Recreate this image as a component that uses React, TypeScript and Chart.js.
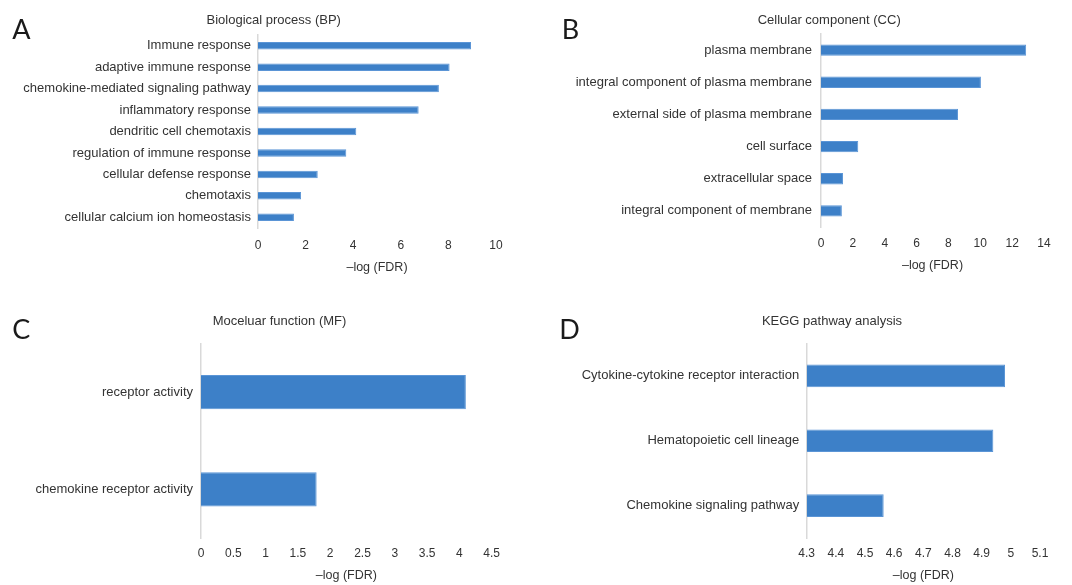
import React, { useEffect, useRef } from "react";
import { Chart, registerables } from "chart.js";

Chart.register(...registerables);

// ---------------- data ----------------
const bpTitle = "Biological process (BP)";
const bpLabels = [
  "Immune response",
  "adaptive immune response",
  "chemokine-mediated signaling pathway",
  "inflammatory response",
  "dendritic cell chemotaxis",
  "regulation of immune response",
  "cellular defense response",
  "chemotaxis",
  "cellular calcium ion homeostasis",
];
const bpValues = [8.95, 8.05, 7.6, 6.75, 4.13, 3.71, 2.51, 1.81, 1.51];
const bpTicks = [0, 2, 4, 6, 8, 10];

const ccTitle = "Cellular component (CC)";
const ccLabels = [
  "plasma membrane",
  "integral component of plasma membrane",
  "external side of plasma membrane",
  "cell surface",
  "extracellular space",
  "integral component of membrane",
];
const ccValues = [12.88, 10.04, 8.6, 2.34, 1.38, 1.31];
const ccTicks = [0, 2, 4, 6, 8, 10, 12, 14];

const mfTitle = "Moceluar function (MF)";
const mfLabels = ["receptor activity", "chemokine receptor activity"];
const mfValues = [4.1, 1.79];
const mfTicks = [0, 0.5, 1, 1.5, 2, 2.5, 3, 3.5, 4, 4.5];

const keggTitle = "KEGG pathway analysis";
const keggLabels = [
  "Cytokine-cytokine receptor interaction",
  "Hematopoietic cell lineage",
  "Chemokine signaling pathway",
];
const keggValues = [4.98, 4.94, 4.564];
const keggTicks = [4.3, 4.4, 4.5, 4.6, 4.7, 4.8, 4.9, 5, 5.1];

const axisTitle = "\u2013log (FDR)";
const panelLetters = ["A", "B", "C", "D"];

// ---------------- styles ----------------
const BAR_COLOR = "#3d80c8";
const BAR_EDGE = "#5b95d6";
const TEXT_COLOR = "#333333";
const AXIS_COLOR = "#d9d9d9";
const FONT = "'Liberation Sans', Arial, Helvetica, sans-serif";

type PanelCfg = {
  letter: string;
  title: string;
  labels: string[];
  values: number[];
  ticks: number[];
  box: { left: number; top: number; width: number; height: number };
  yWidth: number;
  pad: { top: number; right: number; bottom: number };
  xHeight: number;
  tickPad: number;
  yPad: number;
  titleAt: [number, number];
  letterAt: [number, number];
};

const PANELS: PanelCfg[] = [
  {
    letter: panelLetters[0],
    title: bpTitle,
    labels: bpLabels,
    values: bpValues,
    ticks: bpTicks,
    box: { left: 0, top: 0, width: 530, height: 290 },
    yWidth: 258,
    pad: { top: 35, right: 34, bottom: 15 },
    xHeight: 47,
    tickPad: 10,
    yPad: 7,
    titleAt: [273.7, 20.7],
    letterAt: [12.3, 39],
  },
  {
    letter: panelLetters[1],
    title: ccTitle,
    labels: ccLabels,
    values: ccValues,
    ticks: ccTicks,
    box: { left: 530, top: 0, width: 542, height: 290 },
    yWidth: 291,
    pad: { top: 34, right: 28, bottom: 17 },
    xHeight: 46,
    tickPad: 9,
    yPad: 9,
    titleAt: [299.2, 20.7],
    letterAt: [31.7, 39],
  },
  {
    letter: panelLetters[2],
    title: mfTitle,
    labels: mfLabels,
    values: mfValues,
    ticks: mfTicks,
    box: { left: 0, top: 290, width: 530, height: 295 },
    yWidth: 201,
    pad: { top: 53.5, right: 38.3, bottom: 2 },
    xHeight: 45,
    tickPad: 8,
    yPad: 8,
    titleAt: [279.5, 31.7],
    letterAt: [12.3, 49.3],
  },
  {
    letter: panelLetters[3],
    title: keggTitle,
    labels: keggLabels,
    values: keggValues,
    ticks: keggTicks,
    box: { left: 530, top: 290, width: 542, height: 295 },
    yWidth: 276.7,
    pad: { top: 53.5, right: 32, bottom: 2 },
    xHeight: 45,
    tickPad: 8,
    yPad: 7.5,
    titleAt: [302, 31.7],
    letterAt: [29.3, 49],
  },
];

const panelTextPlugin = {
  id: "panelText",
  afterDraw(chart: any, _args: any, opts: any) {
    const ctx = chart.ctx;
    ctx.save();
    ctx.fillStyle = TEXT_COLOR;
    ctx.font = `13px ${FONT}`;
    ctx.textAlign = "center";
    ctx.textBaseline = "middle";
    ctx.fillText(opts.title, opts.titleX, opts.titleY);
    ctx.fillStyle = "#1a1a1a";
    ctx.font = `27px Lato, 'Noto Sans', sans-serif`;
    ctx.textAlign = "left";
    ctx.textBaseline = "alphabetic";
    ctx.fillText(opts.letter, opts.letterX, opts.letterY);
    ctx.restore();
  },
};

function fmt(v: number) {
  return String(+(+v).toFixed(3));
}

function Panel({ cfg }: { cfg: PanelCfg }) {
  const ref = useRef<HTMLCanvasElement | null>(null);
  useEffect(() => {
    if (!ref.current) return;
    const tMin = cfg.ticks[0];
    const tMax = cfg.ticks[cfg.ticks.length - 1];
    const chart = new Chart(ref.current, {
      type: "bar",
      data: {
        labels: cfg.labels,
        datasets: [
          {
            data: cfg.values,
            backgroundColor: BAR_COLOR,
            borderColor: BAR_EDGE,
            borderWidth: 1,
            base: tMin,
            barPercentage: 0.35,
            categoryPercentage: 1,
          } as any,
        ],
      },
      options: {
        indexAxis: "y",
        responsive: false,
        animation: false,
        devicePixelRatio: 1,
        layout: {
          padding: { left: 0, top: cfg.pad.top, right: cfg.pad.right, bottom: cfg.pad.bottom },
        },
        plugins: {
          legend: { display: false },
          tooltip: { enabled: false },
          title: { display: false },
          panelText: {
            title: cfg.title,
            titleX: cfg.titleAt[0],
            titleY: cfg.titleAt[1],
            letter: cfg.letter,
            letterX: cfg.letterAt[0],
            letterY: cfg.letterAt[1],
          },
        } as any,
        scales: {
          x: {
            type: "linear",
            min: tMin,
            max: tMax,
            grid: { display: false, drawTicks: false },
            border: { display: false },
            afterBuildTicks: (scale: any) => {
              scale.ticks = cfg.ticks.map((v) => ({ value: v }));
            },
            afterFit: (scale: any) => {
              scale.height = cfg.xHeight;
            },
            ticks: {
              padding: cfg.tickPad,
              color: TEXT_COLOR,
              font: { family: FONT, size: 12 },
              maxRotation: 0,
              autoSkip: false,
              callback: (v: any) => fmt(v),
            },
            title: {
              display: true,
              text: axisTitle,
              color: TEXT_COLOR,
              font: { family: FONT, size: 12.5 },
              padding: { top: 0, bottom: 0 },
            },
          },
          y: {
            type: "category",
            grid: { display: false, drawTicks: false },
            border: { display: true, color: AXIS_COLOR, width: 1.5 },
            afterFit: (scale: any) => {
              scale.width = cfg.yWidth;
            },
            ticks: {
              padding: cfg.yPad,
              color: TEXT_COLOR,
              font: { family: FONT, size: 13 },
              autoSkip: false,
            },
          },
        },
      } as any,
      plugins: [panelTextPlugin as any],
    });
    return () => chart.destroy();
  }, [cfg]);
  return (
    <canvas
      ref={ref}
      width={cfg.box.width}
      height={cfg.box.height}
      style={{
        position: "absolute",
        left: cfg.box.left,
        top: cfg.box.top,
        width: cfg.box.width,
        height: cfg.box.height,
        display: "block",
      }}
    />
  );
}

export default function App() {
  return (
    <div
      style={{
        position: "absolute",
        left: 0,
        top: 0,
        width: 1072,
        height: 585,
        background: "#ffffff",
        overflow: "hidden",
      }}
    >
      {PANELS.map((p) => (
        <Panel key={p.letter} cfg={p} />
      ))}
    </div>
  );
}
